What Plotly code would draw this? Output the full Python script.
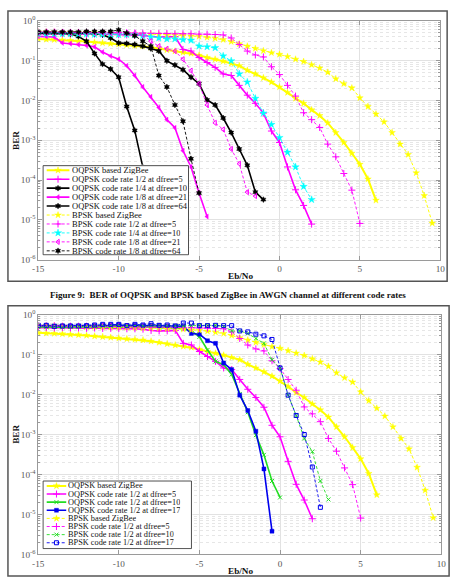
import plotly.graph_objects as go

# ---------------- data (BER vs Eb/No, 0.5 dB steps starting at -15 dB) ----------------
EBNO = [-15.0, -14.5, -14.0, -13.5, -13.0, -12.5, -12.0, -11.5, -11.0, -10.5,
        -10.0, -9.5, -9.0, -8.5, -8.0, -7.5, -7.0, -6.5, -6.0, -5.5,
        -5.0, -4.5, -4.0, -3.5, -3.0, -2.5, -2.0, -1.5, -1.0, -0.5,
        0.0, 0.5, 1.0, 1.5, 2.0, 2.5, 3.0, 3.5, 4.0, 4.5,
        5.0, 5.5, 6.0, 6.5, 7.0, 7.5, 8.0, 8.5, 9.0, 9.5]

OQPSK_ZIGBEE = [0.348, 0.341, 0.335, 0.328, 0.316, 0.310, 0.299, 0.288, 0.277, 0.267,
                0.257, 0.247, 0.238, 0.230, 0.215, 0.200, 0.185, 0.172, 0.160, 0.151,
                0.135, 0.119, 0.108, 0.0964, 0.0844, 0.0740, 0.0568, 0.0461, 0.0368, 0.0288,
                0.0217, 0.0157, 0.0112, 0.00844, 0.00578, 0.00412, 0.00272, 0.00155, 8.77e-4, 4.70e-4,
                2.47e-4, 1.06e-4, 3.10e-5]

BPSK_ZIGBEE = [0.517, 0.517, 0.515, 0.507, 0.505, 0.503, 0.497, 0.495, 0.488, 0.485,
               0.479, 0.475, 0.470, 0.461, 0.458, 0.453, 0.444, 0.436, 0.428, 0.412,
               0.404, 0.382, 0.361, 0.335, 0.299, 0.262, 0.230, 0.201, 0.176, 0.157,
               0.143, 0.125, 0.108, 0.0945, 0.0782, 0.0648, 0.0507, 0.0348, 0.0262, 0.0205,
               0.0116, 0.00699, 0.00453, 0.00288, 0.00155, 7.97e-4, 4.36e-4, 1.51e-4, 4.04e-5, 8.28e-6]

OQPSK_R12_D5 = [0.47, 0.47, 0.46, 0.47, 0.46, 0.46, 0.45, 0.46, 0.45, 0.45,
                0.45, 0.44, 0.44, 0.43, 0.40, 0.39, 0.39, 0.40, 0.190, 0.173,
                0.119, 0.0893, 0.0673, 0.0461, 0.0420, 0.0238, 0.0135, 0.00844, 0.00479, 0.00170,
                8.77e-4, 2.13e-4, 5.68e-5, 2.30e-5, 7.82e-6]

OQPSK_R14_D10 = [0.507, 0.507, 0.507, 0.505, 0.497, 0.488, 0.488, 0.470, 0.444, 0.368,
                 0.277, 0.267, 0.252, 0.230, 0.201, 0.173, 0.0982, 0.0768, 0.0589, 0.0382,
                 0.0262, 0.0102, 0.00767, 0.00361, 0.00155, 6.01e-4, 2.34e-4, 4.97e-5, 3.22e-5]

OQPSK_R18_D21 = [0.404, 0.404, 0.389, 0.277, 0.267, 0.252, 0.238, 0.221, 0.163, 0.130,
                 0.108, 0.0740, 0.0420, 0.0217, 0.0123, 0.00661, 0.00328, 0.00205, 5.47e-4, 2.13e-4,
                 4.70e-5, 1.21e-5]

OQPSK_R18_D64 = [0.488, 0.488, 0.488, 0.488, 0.470, 0.404, 0.305, 0.151, 0.0813, 0.0612,
                 0.0382, 0.00699, 0.00176, 2.13e-4, 1.51e-5]

BPSK_R12_D5 = [0.52, 0.52, 0.52, 0.51, 0.51, 0.51, 0.51, 0.50, 0.50, 0.50,
               0.50, 0.50, 0.49, 0.49, 0.48, 0.48, 0.48, 0.47, 0.47, 0.47,
               0.46, 0.46, 0.45, 0.44, 0.368, 0.252, 0.173, 0.138, 0.123, 0.0698,
               0.0444, 0.0238, 0.0128, 0.00489, 0.00328, 0.00209, 7.97e-4, 3.82e-4, 1.46e-4, 5.57e-5,
               8.13e-6]

BPSK_R14_D10 = [0.470, 0.470, 0.470, 0.470, 0.470, 0.461, 0.461, 0.453, 0.453, 0.453,
                0.444, 0.444, 0.444, 0.420, 0.389, 0.368, 0.348, 0.348, 0.335, 0.322,
                0.230, 0.221, 0.209, 0.130, 0.0982, 0.0461, 0.0288, 0.0112, 0.00479, 0.00247,
                0.00116, 4.97e-4, 2.13e-4, 6.86e-5, 3.22e-5]

BPSK_R18_D21 = [0.51, 0.51, 0.51, 0.51, 0.50, 0.50, 0.50, 0.50, 0.50, 0.49,
                0.49, 0.49, 0.488, 0.444, 0.305, 0.230, 0.197, 0.173, 0.108, 0.0557,
                0.0262, 0.00767, 0.00272, 0.00186, 6.01e-4, 2.57e-4, 4.97e-5, 3.96e-5]

BPSK_R18_D64 = [0.517, 0.517, 0.517, 0.517, 0.517, 0.517, 0.537, 0.537, 0.537, 0.537,
                0.589, 0.488, 0.420, 0.305, 0.230, 0.0420, 0.0217, 0.00767, 0.00299, 3.41e-4,
                4.70e-5]

OQPSK_R12_D10 = [0.49, 0.48, 0.49, 0.48, 0.49, 0.49, 0.48, 0.49, 0.50, 0.49,
                 0.49, 0.50, 0.49, 0.48, 0.49, 0.47, 0.47, 0.46, 0.444, 0.389,
                 0.277, 0.130, 0.0673, 0.0557, 0.0316, 0.0102, 0.00361, 9.64e-4, 3.10e-4, 6.86e-5,
                 2.67e-5]

OQPSK_R12_D17 = [0.527, 0.527, 0.517, 0.517, 0.517, 0.517, 0.517, 0.527, 0.537, 0.537,
                 0.547, 0.527, 0.537, 0.527, 0.537, 0.527, 0.517, 0.517, 0.507, 0.335,
                 0.322, 0.221, 0.190, 0.0612, 0.0420, 0.00964, 0.00397, 0.00121, 1.38e-4, 3.82e-6]

BPSK_R12_D10 = [0.488, 0.497, 0.497, 0.488, 0.497, 0.507, 0.507, 0.507, 0.517, 0.517,
                0.527, 0.517, 0.527, 0.517, 0.527, 0.527, 0.517, 0.527, 0.517, 0.527,
                0.537, 0.537, 0.537, 0.507, 0.389, 0.389, 0.335, 0.252, 0.190, 0.0740,
                0.0461, 0.00964, 0.00299, 7.97e-4, 3.75e-4, 6.9e-5, 2.38e-5]

BPSK_R12_D17 = [0.537, 0.537, 0.507, 0.517, 0.517, 0.517, 0.527, 0.547, 0.568, 0.568,
                0.568, 0.527, 0.568, 0.547, 0.589, 0.537, 0.547, 0.517, 0.612, 0.612,
                0.527, 0.527, 0.537, 0.527, 0.527, 0.389, 0.368, 0.322, 0.293, 0.238,
                0.0461, 0.00964, 0.00299, 0.00100, 1.54e-4, 1.51e-5]

X_TICKS = [-15, -10, -5, 0, 5, 10]
X_TICKTEXT = ["-15", "-10", "-5", "0", "5", "10"]
Y_TICKS = [1, 1e-1, 1e-2, 1e-3, 1e-4, 1e-5, 1e-6]
Y_TICKTEXT = ["10<sup>0</sup>", "10<sup>-1</sup>", "10<sup>-2</sup>", "10<sup>-3</sup>",
              "10<sup>-4</sup>", "10<sup>-5</sup>", "10<sup>-6</sup>"]

CAPTION = "Figure 9:\u00a0 BER of OQPSK and BPSK based ZigBee in AWGN channel at different code rates"

# ---------------- styles ----------------
YEL, MAG, CYA, BLK, GRN, BLU = "#ffff00", "#ff00ff", "#00ffff", "#000000", "#22dd22", "#0000ee"
SOLID, DASH = "solid", "3px,2px"

STYLES = {
    "oq_zig": dict(c=YEL, dash=SOLID, w=2.0, sym="star", ms=5, fill=True),
    "oq_12_5": dict(c=MAG, dash=SOLID, w=1.6, sym="cross-thin", ms=5, fill=False),
    "oq_14_10": dict(c=BLK, dash=SOLID, w=1.6, sym="hexagram", ms=4.5, fill=True),
    "oq_18_21": dict(c=MAG, dash=SOLID, w=1.6, sym="triangle-left", ms=4.5, fill=True),
    "oq_18_64": dict(c=BLK, dash=SOLID, w=1.6, sym="hexagram", ms=4.5, fill=True),
    "bp_zig": dict(c=YEL, dash=DASH, w=1.0, sym="star", ms=5, fill=True),
    "bp_12_5": dict(c=MAG, dash=DASH, w=0.9, sym="cross-thin", ms=5, fill=False),
    "bp_14_10": dict(c=CYA, dash=DASH, w=0.9, sym="star", ms=5.5, fill=True),
    "bp_18_21": dict(c=MAG, dash=DASH, w=0.9, sym="triangle-left-open", ms=4.5, fill=False),
    "bp_18_64": dict(c=BLK, dash=DASH, w=0.9, sym="hexagram", ms=4.5, fill=True),
    "oq_12_10": dict(c=GRN, dash=SOLID, w=1.6, sym="x-thin", ms=4, fill=False),
    "oq_12_17": dict(c=BLU, dash=SOLID, w=1.6, sym="square", ms=4, fill=True),
    "bp_12_10": dict(c=GRN, dash=DASH, w=0.9, sym="x-thin", ms=4, fill=False),
    "bp_12_17": dict(c=BLU, dash=DASH, w=0.9, sym="square-open", ms=4, fill=False),
}

TOP_SERIES = [
    ("OQPSK based ZigBee", "oq_zig", OQPSK_ZIGBEE),
    ("OQPSK code rate 1/2 at dfree=5", "oq_12_5", OQPSK_R12_D5),
    ("OQPSK code rate 1/4 at dfree=10", "oq_14_10", OQPSK_R14_D10),
    ("OQPSK code rate 1/8 at dfree=21", "oq_18_21", OQPSK_R18_D21),
    ("OQPSK code rate 1/8 at dfree=64", "oq_18_64", OQPSK_R18_D64),
    ("BPSK based ZigBee", "bp_zig", BPSK_ZIGBEE),
    ("BPSK code rate 1/2 at dfree=5", "bp_12_5", BPSK_R12_D5),
    ("BPSK code rate 1/4 at dfree=10", "bp_14_10", BPSK_R14_D10),
    ("BPSK code rate 1/8 at dfree=21", "bp_18_21", BPSK_R18_D21),
    ("BPSK code rate 1/8 at dfree=64", "bp_18_64", BPSK_R18_D64),
]

BOTTOM_SERIES = [
    ("OQPSK based ZigBee", "oq_zig", OQPSK_ZIGBEE),
    ("OQPSK code rate 1/2 at dfree=5", "oq_12_5", OQPSK_R12_D5),
    ("OQPSK code rate 1/2 at dfree=10", "oq_12_10", OQPSK_R12_D10),
    ("OQPSK code rate 1/2 at dfree=17", "oq_12_17", OQPSK_R12_D17),
    ("BPSK based ZigBee", "bp_zig", BPSK_ZIGBEE),
    ("BPSK code rate 1/2 at dfree=5", "bp_12_5", BPSK_R12_D5),
    ("BPSK code rate 1/2 at dfree=10", "bp_12_10", BPSK_R12_D10),
    ("BPSK code rate 1/2 at dfree=17", "bp_12_17", BPSK_R12_D17),
]

W, H = 458, 582
SERIF = "Liberation Serif, Times New Roman, serif"


def px_x(p):
    return p / W


def px_y(p):
    return 1 - p / H


def line_style(s):
    return dict(color=s["c"], width=s["w"], dash=s["dash"])


def marker_style(s):
    return dict(symbol=s["sym"], size=s["ms"], color=s["c"],
                line=dict(color=s["c"], width=1.0 if not s["fill"] else 0.4))


fig = go.Figure()

# data traces
for (name, key, ys), (xa, ya) in [(t, ("x", "y")) for t in TOP_SERIES] + \
                                  [(t, ("x2", "y2")) for t in BOTTOM_SERIES]:
    s = STYLES[key]
    fig.add_trace(go.Scatter(
        x=EBNO[:len(ys)], y=ys, name=name, mode="lines+markers",
        xaxis=xa, yaxis=ya, line=line_style(s), marker=marker_style(s),
        showlegend=False, hoverinfo="skip"))

# custom compact legends (MATLAB-like), drawn in helper axes laid over the plots
LEGENDS = [
    # series, axis ids, box (left, top, width, height) px, row0, rowstep, line x0, x1, marker x, text x, font
    (TOP_SERIES, ("x3", "y3"), (38, 162, 149, 91), 4.7, 9.14, 3.7, 27.0, 15.3, 29.0, 8.5),
    (BOTTOM_SERIES, ("x4", "y4"), (38, 484, 152, 69), 5.0, 8.29, 3.7, 23.7, 13.7, 24.6, 8.3),
]
annotations = []
for series, (xa, ya), (bl, bt, bw, bh), r0, rs, lx0, lx1, mx, tx, fs in LEGENDS:
    fig.add_trace(go.Scatter(
        x=[0, bw, bw, 0, 0], y=[0, 0, bh, bh, 0], mode="lines", fill="toself",
        fillcolor="white", line=dict(color="#3a3a3a", width=0.9),
        xaxis=xa, yaxis=ya, showlegend=False, hoverinfo="skip"))
    for i, (name, key, _) in enumerate(series):
        s = STYLES[key]
        yc = r0 + rs * i
        fig.add_trace(go.Scatter(x=[lx0, lx1], y=[yc, yc], mode="lines", line=line_style(s),
                                 xaxis=xa, yaxis=ya, showlegend=False, hoverinfo="skip"))
        fig.add_trace(go.Scatter(x=[mx], y=[yc], mode="markers", marker=marker_style(s),
                                 xaxis=xa, yaxis=ya, showlegend=False, hoverinfo="skip"))
        annotations.append(dict(text=name, x=tx, y=yc, xref=xa, yref=ya, xanchor="left",
                                yanchor="middle", showarrow=False, borderpad=0,
                                height=rs - 1.0,
                                font=dict(family=SERIF, size=fs, color="#111")))

# axes
MINOR_Y = [k * 10.0 ** p for p in range(-6, 0) for k in range(2, 10)]
GRID = "#e2e2e2"
AXC = "#9a9a9a"
TICKFONT = dict(family=SERIF, size=9.2, color="#555")


def xaxis(domain, anchor):
    return dict(domain=domain, anchor=anchor, range=[-15, 10], tickmode="array",
                tickvals=X_TICKS, ticktext=X_TICKTEXT, ticks="inside", ticklen=4,
                tickcolor=AXC, showline=True, linecolor=AXC, linewidth=1, mirror="ticks",
                showgrid=True, gridcolor=GRID, gridwidth=1, zeroline=False, tickfont=TICKFONT)


def yaxis(domain, anchor):
    return dict(domain=domain, anchor=anchor, type="log", range=[-6, 0], tickmode="array",
                tickvals=Y_TICKS, ticktext=Y_TICKTEXT, ticks="inside", ticklen=4,
                tickcolor=AXC, showline=True, linecolor=AXC, linewidth=1, mirror="ticks",
                showgrid=True, gridcolor=GRID, gridwidth=1, zeroline=False, tickfont=TICKFONT,
                minor=dict(tickmode="array", tickvals=MINOR_Y, ticks="inside", ticklen=2,
                           tickcolor=AXC, showgrid=True, gridcolor="#e6e6e6", griddash="dot"))


def hidden_axis(domain, anchor, rng):
    return dict(domain=domain, anchor=anchor, range=rng, visible=False, fixedrange=True)


layout = dict(
    width=W, height=H, margin=dict(l=0, r=0, t=0, b=0), autosize=False,
    paper_bgcolor="white", plot_bgcolor="white", showlegend=False,
    xaxis=xaxis([px_x(33), px_x(445)], "y"),
    yaxis=yaxis([px_y(258), px_y(14)], "x"),
    xaxis2=xaxis([px_x(33), px_x(446)], "y2"),
    yaxis2=yaxis([px_y(559), px_y(314)], "x2"),
)
for (series, (xa, ya), (bl, bt, bw, bh), *_r) in LEGENDS:
    n = xa[1:]
    layout["xaxis" + n] = hidden_axis([px_x(bl - 1), px_x(bl + bw + 1)], ya, [-1, bw + 1])
    layout["yaxis" + n] = hidden_axis([px_y(bt + bh + 1), px_y(bt - 1)], xa, [bh + 1, -1])

# axis titles and caption
TITLE_FONT = dict(family=SERIF, size=9.2, color="#111")
for yc_bl, yc_eb in [(136, 275), (436, 576)]:
    annotations.append(dict(text="<b>BER</b>", x=px_x(10), y=px_y(yc_bl), xref="paper", yref="paper",
                            textangle=-90, showarrow=False, font=TITLE_FONT,
                            xanchor="center", yanchor="middle"))
    annotations.append(dict(text="<b>Eb/No</b>", x=px_x(240), y=px_y(yc_eb), xref="paper", yref="paper",
                            showarrow=False, font=TITLE_FONT, xanchor="center", yanchor="middle"))
annotations.append(dict(text="<b>" + CAPTION + "</b>", x=px_x(227), y=px_y(294), xref="paper",
                        yref="paper", showarrow=False, xanchor="center", yanchor="middle",
                        font=dict(family=SERIF, size=9, color="#111")))
layout["annotations"] = annotations

# figure frames
layout["shapes"] = [
    dict(type="rect", xref="paper", yref="paper", x0=px_x(2), x1=px_x(452), y0=px_y(280), y1=px_y(4),
         line=dict(color="#555", width=1.5), layer="above"),
    dict(type="rect", xref="paper", yref="paper", x0=px_x(2), x1=px_x(454), y0=px_y(581), y1=px_y(305),
         line=dict(color="#555", width=1.5), layer="above"),
]

fig.update_layout(**layout)
fig.write_html("out.html")
